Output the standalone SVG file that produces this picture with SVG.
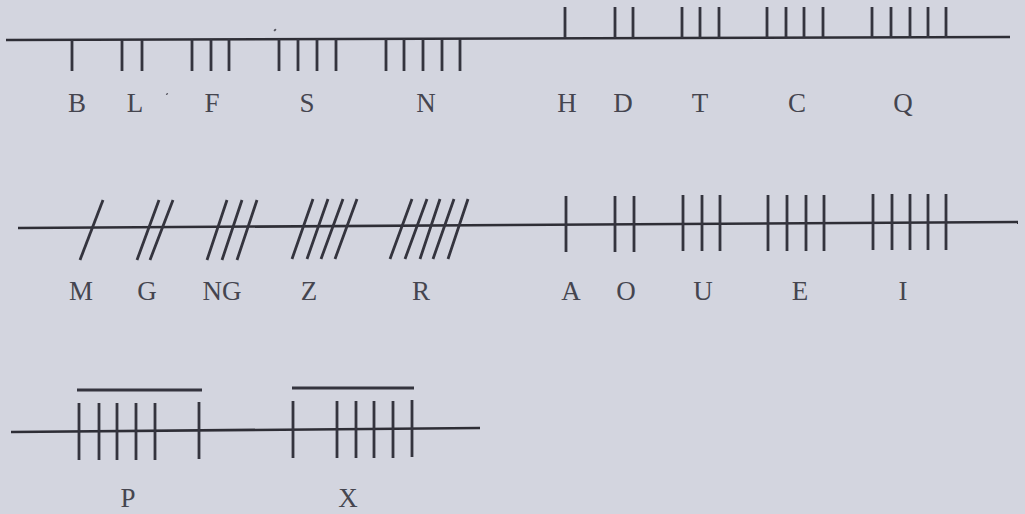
<svg xmlns="http://www.w3.org/2000/svg" width="1025" height="514" viewBox="0 0 1025 514">
<style>
.stem{stroke:#2e2e36;stroke-width:2.6;fill:none;stroke-linecap:butt}
.s{stroke:#34343e;stroke-width:2.8;fill:none}
.lbl{font-family:"Liberation Serif","DejaVu Serif",serif;font-size:27px;fill:#45454f;text-anchor:middle}
</style>
<rect width="1025" height="514" fill="#d3d5df"/>
<g id="stems">
<line class="stem" x1="6" y1="40" x2="1010" y2="37"/>
<line class="stem" x1="18" y1="228" x2="1018" y2="222"/>
<line class="stem" x1="11" y1="432" x2="480" y2="428"/>
</g>
<g id="specks" fill="#55555f">
<ellipse cx="275" cy="30" rx="1.5" ry="1" transform="rotate(-40 275 30)"/>
<ellipse cx="167" cy="94" rx="1.3" ry="0.8" transform="rotate(-40 167 94)"/>
</g>
<g id="B"><path class="s" d="M72 40V71"/><text class="lbl" x="77" y="112">B</text></g>
<g id="L"><path class="s" d="M122 40V71M142 40V71"/><text class="lbl" x="135" y="112">L</text></g>
<g id="F"><path class="s" d="M192 39V71M211 39V71M229 39V71"/><text class="lbl" x="212" y="112">F</text></g>
<g id="S"><path class="s" d="M279 39V71M298 39V71M317 39V71M336 39V71"/><text class="lbl" x="307" y="112">S</text></g>
<g id="N"><path class="s" d="M386 39V71M404 39V71M423 39V71M442 39V71M460 39V71"/><text class="lbl" x="426" y="112">N</text></g>
<g id="H"><path class="s" d="M565 7V38"/><text class="lbl" x="567" y="112">H</text></g>
<g id="D"><path class="s" d="M615 7V38M633 7V38"/><text class="lbl" x="623" y="112">D</text></g>
<g id="T"><path class="s" d="M682 7V38M700 7V38M719 7V38"/><text class="lbl" x="700" y="112">T</text></g>
<g id="C"><path class="s" d="M767 7V38M786 7V38M804 7V38M823 7V38"/><text class="lbl" x="797" y="112">C</text></g>
<g id="Q"><path class="s" d="M872 7V38M891 7V38M910 7V38M928 7V38M946 7V38"/><text class="lbl" x="903" y="112">Q</text></g>
<g id="M"><path class="s" d="M103 200L80 260"/><text class="lbl" x="81" y="300">M</text></g>
<g id="G"><path class="s" d="M159 200L137 260M173 200L150 260"/><text class="lbl" x="147" y="300">G</text></g>
<g id="NG"><path class="s" d="M227 200L207 260M242 200L222 260M257 200L237 260"/><text class="lbl" x="222" y="300">NG</text></g>
<g id="Z"><path class="s" d="M313 199L292 259M328 199L307 259M343 199L321 259M357 199L335 259"/><text class="lbl" x="309" y="300">Z</text></g>
<g id="R"><path class="s" d="M412 199L390 259M427 199L405 259M440 199L420 259M454 199L433 259M468 199L448 259"/><text class="lbl" x="421" y="300">R</text></g>
<g id="A"><path class="s" d="M566 196V252"/><text class="lbl" x="571" y="300">A</text></g>
<g id="O"><path class="s" d="M615 196V252M634 196V252"/><text class="lbl" x="626" y="300">O</text></g>
<g id="U"><path class="s" d="M683 195V251M702 195V251M720 195V251"/><text class="lbl" x="703" y="300">U</text></g>
<g id="E"><path class="s" d="M768 195V251M787 195V251M806 195V251M824 195V251"/><text class="lbl" x="800" y="300">E</text></g>
<g id="I"><path class="s" d="M873 194V250M892 194V250M910 194V250M928 194V250M946 194V250"/><text class="lbl" x="903" y="300">I</text></g>
<g id="P"><path class="s" d="M77 390H202M79 403V460M99 403V460M117 403V460M136 403V460M155 403V460M199 402V459"/><text class="lbl" x="128" y="507">P</text></g>
<g id="X"><path class="s" d="M292 388H414M293 401V458M337 401V458M356 401V458M374 401V458M393 401V458M412 400V457"/><text class="lbl" x="348" y="507">X</text></g>
</svg>
